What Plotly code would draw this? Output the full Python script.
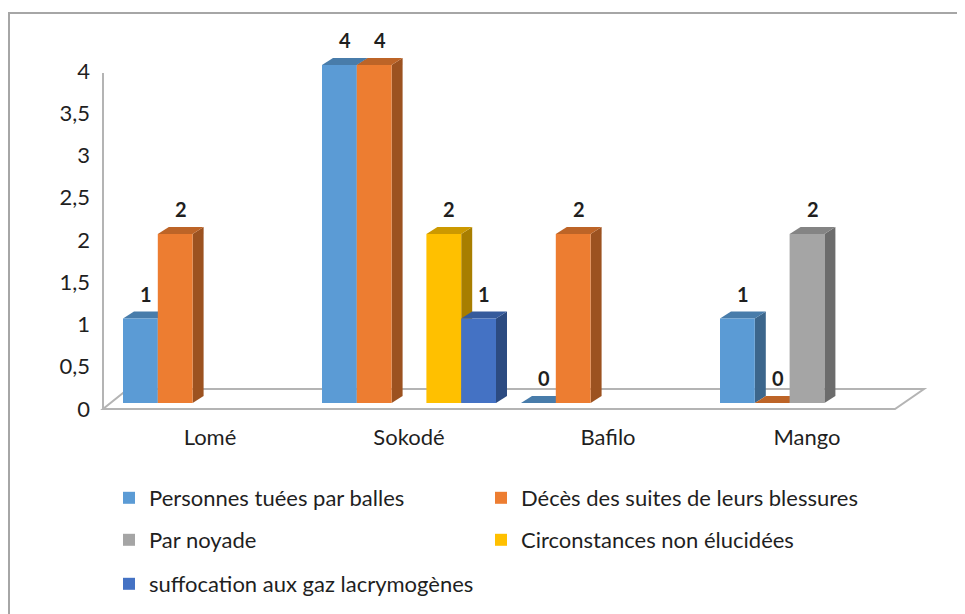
import plotly.graph_objects as go

# ---------------- data ----------------
categories = ["Lomé", "Sokodé", "Bafilo", "Mango"]
series_names = [
    "Personnes tuées par balles",
    "Décès des suites de leurs blessures",
    "Par noyade",
    "Circonstances non élucidées",
    "suffocation aux gaz lacrymogènes",
]
personnes_tuees = [1, 4, 0, 1]
deces_blessures = [2, 4, 2, 0]
par_noyade = [None, None, None, 2]
circonstances = [None, 2, None, None]
suffocation = [None, 1, None, None]
series_values = [personnes_tuees, deces_blessures, par_noyade, circonstances, suffocation]
series_colors = ["#5B9BD5", "#ED7D31", "#A5A5A5", "#FFC000", "#4472C4"]

y_tickvals = [0, 0.5, 1, 1.5, 2, 2.5, 3, 3.5, 4]
y_ticktext = ["0", "0,5", "1", "1,5", "2", "2,5", "3", "3,5", "4"]

# ---------------- geometry (styling) ----------------
OFF = 8                     # page body margin of the html page
W, H = 965 - OFF, 614 - OFF
PLOT_L, PLOT_R, PLOT_T, PLOT_B = 100 - OFF, 935 - OFF, 40 - OFF, 414 - OFF
PX_PER_X = 199.0            # px per category
X0_PX = 210.0 - OFF         # px of category 0 center
BASE_PX = 403.0 - OFF       # px of value 0
PX_PER_Y = 84.5             # px per unit
x_range = [(PLOT_L - X0_PX) / PX_PER_X, (PLOT_R - X0_PX) / PX_PER_X]
y_range = [(BASE_PX - PLOT_B) / PX_PER_Y, (BASE_PX - PLOT_T) / PX_PER_Y]

def px2x(px):
    return (px - OFF - X0_PX) / PX_PER_X

def px2y(py):
    return (BASE_PX - (py - OFF)) / PX_PER_Y

bar_w = 34.8 / PX_PER_X
n_series = len(series_values)
cluster_w = bar_w * n_series
depth_dx = 11 / PX_PER_X
depth_dy = 7 / PX_PER_Y

def darken(hexc, f):
    h = hexc.lstrip("#")
    r, g, b = (int(h[i:i + 2], 16) for i in (0, 2, 4))
    return "rgb(%d,%d,%d)" % (r * f, g * f, b * f)

FONT = "Lato"
TXT = "#1f1f1f"

fig = go.Figure()
shapes = []
annotations = []

# floor
fl_front = px2y(409)
fl_back = px2y(389)
fx0, fx1 = px2x(103), px2x(895)
bx0, bx1 = px2x(128), px2x(924)
shapes.append(dict(
    type="path", xref="x", yref="y", layer="below",
    path=f"M{fx0},{fl_front} L{fx1},{fl_front} L{bx1},{fl_back} L{bx0},{fl_back} Z",
    line=dict(color="#B4B4B4", width=2), fillcolor="white"))
# vertical axis line
shapes.append(dict(type="line", xref="x", yref="y", layer="below",
                   x0=fx0, x1=fx0, y0=fl_front, y1=px2y(73),
                   line=dict(color="#B4B4B4", width=2)))

# legend layout: two columns, three rows (one legend box per entry)
LEG_COL_X = [109, 481]
LEG_ROW_Y = [498, 540, 584]
legend_boxes = {}
legend_ids = []
for i in range(n_series):
    lid = "legend" if i == 0 else f"legend{i + 1}"
    legend_ids.append(lid)
    legend_boxes[lid] = dict(
        orientation="h", xref="container", yref="container",
        x=(LEG_COL_X[i % 2] - OFF) / W, y=1 - (LEG_ROW_Y[i // 2] - OFF) / H,
        xanchor="left", yanchor="middle",
        font=dict(family=FONT, size=22, color=TXT),
        bgcolor="rgba(0,0,0,0)", borderwidth=0)

for i, (name, vals, col) in enumerate(zip(series_names, series_values, series_colors)):
    off = -cluster_w / 2 + i * bar_w
    xs = list(range(len(categories)))
    fig.add_trace(go.Bar(
        x=xs, y=vals, name=name, offset=off, width=bar_w,
        marker=dict(color=col, line=dict(width=0)),
        legend=legend_ids[i], hoverinfo="skip"))
    for c, v in enumerate(vals):
        if v is None:
            continue
        xl = c + off
        xr = xl + bar_w
        # side face
        if v > 0:
            shapes.append(dict(
                type="path", xref="x", yref="y", layer="below",
                path=f"M{xr},0 L{xr + depth_dx},{depth_dy} L{xr + depth_dx},{v + depth_dy} L{xr},{v} Z",
                line=dict(width=0), fillcolor=darken(col, 0.66)))
        # top face
        shapes.append(dict(
            type="path", xref="x", yref="y", layer="below",
            path=f"M{xl},{v} L{xr},{v} L{xr + depth_dx},{v + depth_dy} L{xl + depth_dx},{v + depth_dy} Z",
            line=dict(width=0), fillcolor=darken(col, 0.8)))
        annotations.append(dict(
            x=xl + bar_w / 2 + depth_dx / 2, y=v, xref="x", yref="y",
            text=f"<b>{v}</b>", showarrow=False, yshift=25, yanchor="middle",
            font=dict(family=FONT, size=20, color=TXT)))

# outer chart border (partially cropped)
pw = PLOT_R - PLOT_L
ph = PLOT_B - PLOT_T
shapes.append(dict(type="rect", xref="paper", yref="paper",
                   x0=(9 - OFF - PLOT_L) / pw, x1=(W + 20 - PLOT_L) / pw,
                   y0=(PLOT_B - (H + 20)) / ph, y1=(PLOT_B - (13 - OFF)) / ph,
                   line=dict(color="#A6A6A6", width=2), fillcolor="rgba(0,0,0,0)"))

fig.update_layout(
    width=W, height=H,
    margin=dict(l=PLOT_L, r=W - PLOT_R, t=PLOT_T, b=H - PLOT_B, pad=0, autoexpand=False),
    paper_bgcolor="white", plot_bgcolor="white",
    barmode="overlay",
    showlegend=True,
    xaxis=dict(range=x_range, tickvals=list(range(len(categories))), ticktext=categories,
               showgrid=False, zeroline=False, showline=False, ticks="",
               ticklabelstandoff=8,
               tickfont=dict(family=FONT, size=22, color=TXT)),
    yaxis=dict(range=y_range, tickvals=y_tickvals, ticktext=y_ticktext,
               showgrid=False, zeroline=False, showline=False, ticks="",
               ticklabelstandoff=9, ticklabelshift=6,
               tickfont=dict(family=FONT, size=22, color=TXT)),
    shapes=shapes, annotations=annotations,
    **legend_boxes,
)

fig.write_html("out.html")
